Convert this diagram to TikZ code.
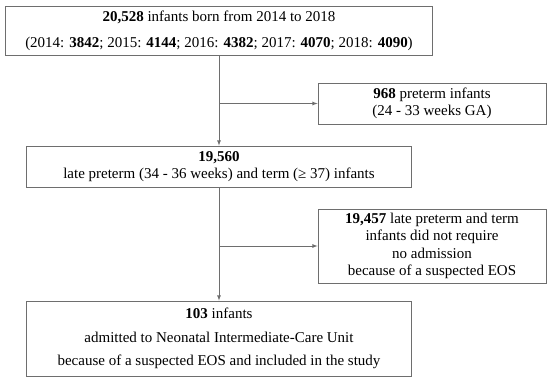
\documentclass[tikz,border=0pt]{standalone}
\usepackage{fontspec}
\setmainfont{Liberation Serif}
\definecolor{boxgray}{HTML}{6E6E6E}
\begin{document}
\begin{tikzpicture}[x=1pt, y=-1pt,
    box/.style={draw=boxgray, line width=0.8pt, align=center, inner sep=0pt,
        font=\fontsize{15}{17.3}\selectfont},
    link/.style={draw=boxgray, line width=0.8pt, -latex}]
    \useasboundingbox (0,0) rectangle (550,381);

    % 主流程框
    \node[box, minimum width=427pt, minimum height=49pt] (born) at (219, 30.5)
        {\textbf{20,528} infants born from 2014 to 2018\\[9pt]
         (2014: \textbf{3842}; 2015: \textbf{4144}; 2016: \textbf{4382}; 2017: \textbf{4070}; 2018: \textbf{4090})};
    \node[box, minimum width=385pt, minimum height=41pt] (late) at (219, 166.5)
        {\textbf{19,560}\\ late preterm (34 - 36 weeks) and term (≥ 37) infants};
    \node[box, minimum width=385pt, minimum height=75pt] (study) at (219, 338.5)
        {\textbf{103} infants\\[6pt]
         admitted to Neonatal Intermediate-Care Unit\\[6pt]
         because of a suspected EOS and included in the study};

    % 排除框
    \node[box, minimum width=228pt, minimum height=41pt] (preterm) at (432, 103.5)
        {\textbf{968} preterm infants\\ (24 - 33 weeks GA)};
    \node[box, minimum width=228pt, minimum height=74pt] (noadm) at (432, 246)
        {\textbf{19,457} late preterm and term\\ infants did not require\\ no admission\\ because of a suspected EOS};

    % 分支点
    \coordinate (split1) at (born.south |- preterm.west);
    \coordinate (split2) at (late.south |- noadm.west);

    % 箭头
    \draw[link] (born.south) -- (late.north);
    \draw[link] (split1) -- (preterm.west);
    \draw[link] (late.south) -- (study.north);
    \draw[link] (split2) -- (noadm.west);
\end{tikzpicture}
\end{document}
